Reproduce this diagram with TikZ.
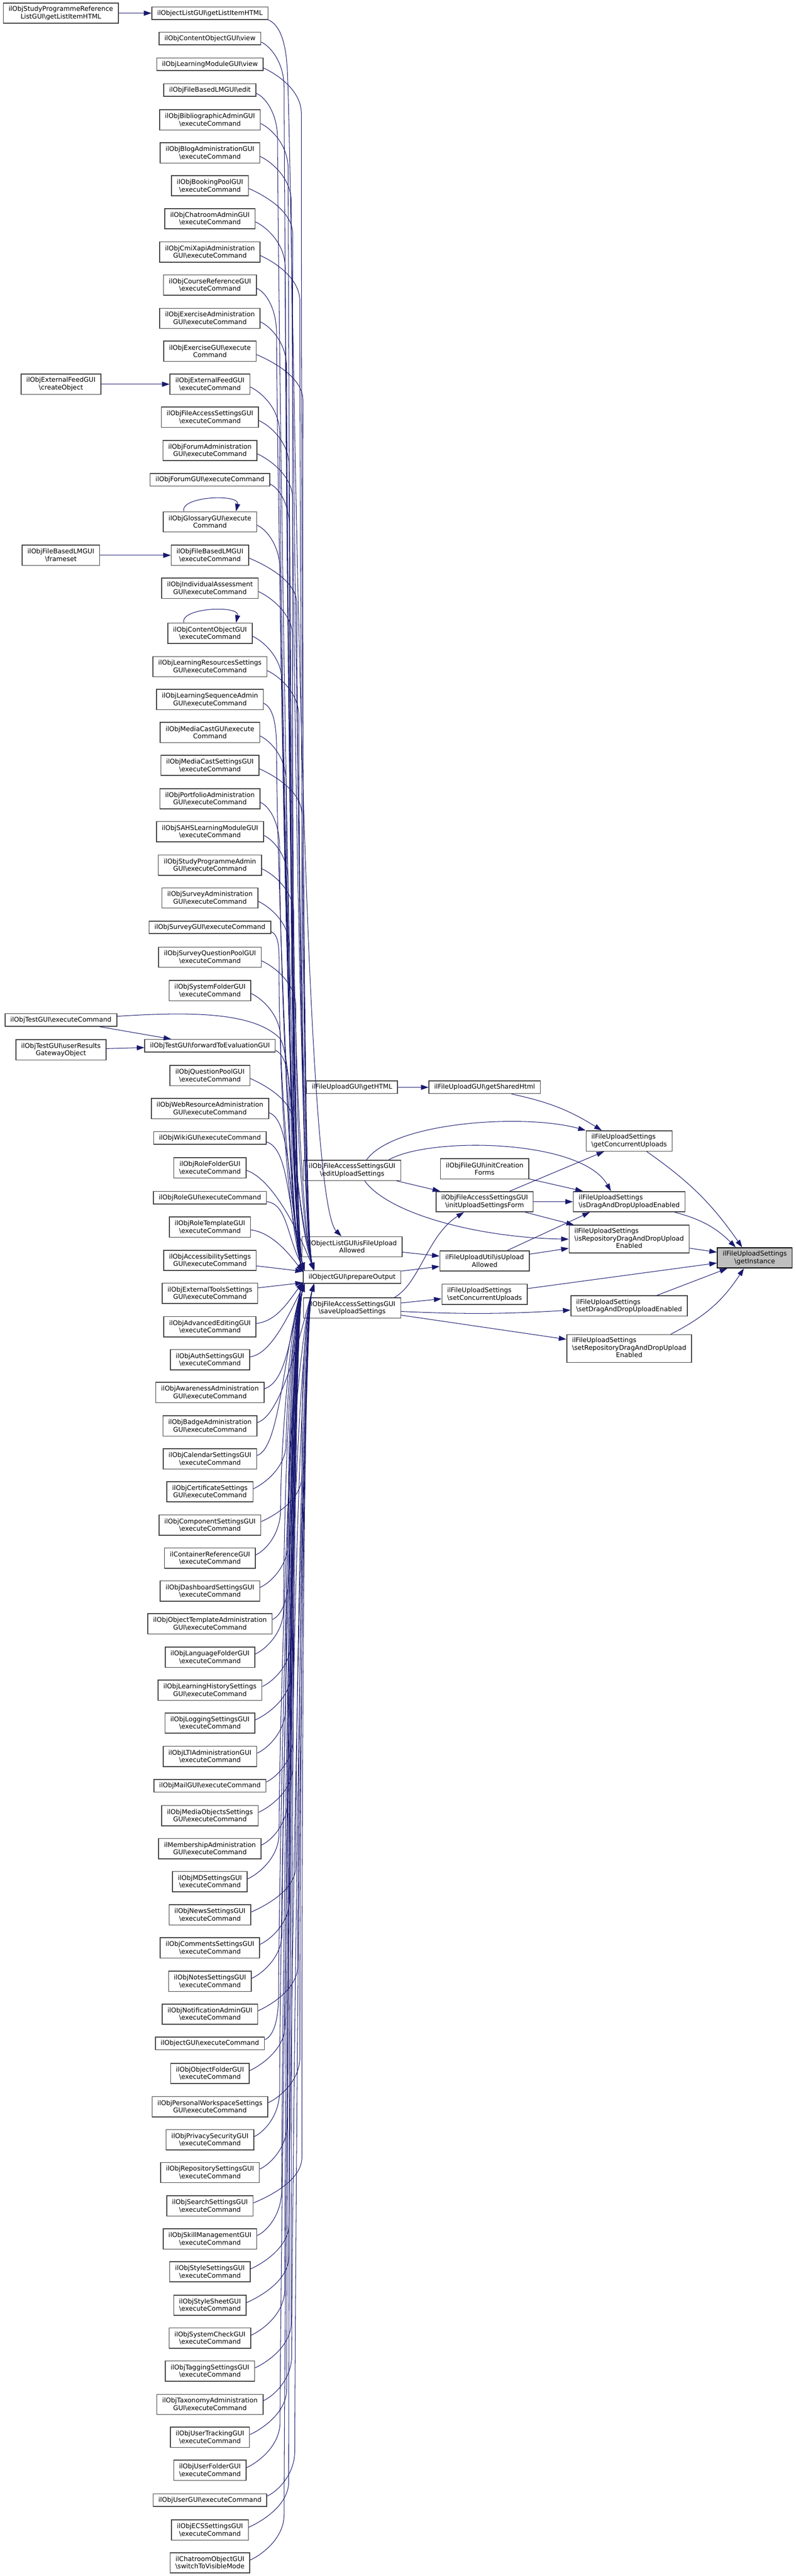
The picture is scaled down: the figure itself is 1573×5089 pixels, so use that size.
\documentclass[tikz,border=0pt]{standalone}
\usepackage{fontspec}
\setmainfont{DejaVu Sans}
\usetikzlibrary{arrows.meta,calc}

\definecolor{edgeblue}{HTML}{191970}
\definecolor{boxline}{HTML}{404040}
\definecolor{markgray}{HTML}{BFBFBF}
\newcommand{\bs}{\textbackslash}
\newcommand{\fnfont}{\fontsize{7.35}{8.4}\selectfont}

\tikzset{
  fn/.style={draw=boxline, line width=0.9pt, fill=white, font=\fnfont, align=center,
    inner xsep=6pt, inner ysep=1pt, minimum height=14.2pt},
  fn2/.style={fn, minimum height=22.8pt},
  fn3/.style={fn, minimum height=31.3pt},
  fnl/.style={fn2, align=left},
  fnmark/.style={fn2, fill=markgray, draw=black},
  call/.style={draw=edgeblue, line width=0.6pt, -{Triangle[length=8.5pt,width=5.7pt]}},
  downbundle/.style 2 args={to path={
    .. controls ($(\tikztostart)+(18,-8)$) and ($(\tikztostart -| \tikztotarget)+(#1,-40)$)
    .. ($(\tikztostart -| \tikztotarget)+(#1,-90)$)
    .. controls ($(\tikztostart -| \tikztotarget)+(#1,-#2)$) and ($(\tikztotarget)+(-25,90)$)
    .. (\tikztotarget)}},
  upbundle/.style 2 args={to path={
    .. controls ($(\tikztostart)+(18,8)$) and ($(\tikztostart -| \tikztotarget)+(#1,40)$)
    .. ($(\tikztostart -| \tikztotarget)+(#1,90)$)
    .. controls ($(\tikztostart -| \tikztotarget)+(#1,#2)$) and ($(\tikztotarget)+(-25,-90)$)
    .. (\tikztotarget)}}
}

\begin{document}
\begin{tikzpicture}[x=0.02cm, y=0.02cm]
	\path[use as bounding box, fill=white] (0,0) rectangle (1573,-5089);

	% outer callers
	\node[fn2] (studyref) at (120.4,-26) {ilObjStudyProgrammeReference\\ListGUI\bs getListItemHTML};
	\node[fn2] (feedcreate) at (120.4,-759) {ilObjExternalFeedGUI\\\bs createObject};
	\node[fn2] (lmframeset) at (120.4,-1097) {ilObjFileBasedLMGUI\\\bs frameset};
	\node[fn] (testexec) at (120.4,-2015) {ilObjTestGUI\bs executeCommand};
	\node[fn2] (testresults) at (120.4,-2074) {ilObjTestGUI\bs userResults\\GatewayObject};

	% main column
	\node[fn] (listhtml) at (415,-26) {ilObjectListGUI\bs getListItemHTML};
	\node[fn] (cobjview) at (415,-76) {ilObjContentObjectGUI\bs view};
	\node[fn] (lmview) at (415,-127) {ilObjLearningModuleGUI\bs view};
	\node[fn] (lmedit) at (415,-178) {ilObjFileBasedLMGUI\bs edit};
	\node[fn2] (biblio) at (415,-237) {ilObjBibliographicAdminGUI\\\bs executeCommand};
	\node[fn2] (blog) at (415,-302) {ilObjBlogAdministrationGUI\\\bs executeCommand};
	\node[fn2] (booking) at (415,-367) {ilObjBookingPoolGUI\\\bs executeCommand};
	\node[fn2] (chatadmin) at (415,-432) {ilObjChatroomAdminGUI\\\bs executeCommand};
	\node[fn2] (cmix) at (415,-498) {ilObjCmiXapiAdministration\\GUI\bs executeCommand};
	\node[fn2] (crsref) at (415,-563) {ilObjCourseReferenceGUI\\\bs executeCommand};
	\node[fn2] (excadmin) at (415,-629) {ilObjExerciseAdministration\\GUI\bs executeCommand};
	\node[fn2] (exc) at (415,-694) {ilObjExerciseGUI\bs execute\\Command};
	\node[fn2] (feed) at (415,-759) {ilObjExternalFeedGUI\\\bs executeCommand};
	\node[fn2] (fileacc) at (415,-824) {ilObjFileAccessSettingsGUI\\\bs executeCommand};
	\node[fn2] (frmadmin) at (415,-890) {ilObjForumAdministration\\GUI\bs executeCommand};
	\node[fn] (frm) at (415,-948) {ilObjForumGUI\bs executeCommand};
	\node[fn2] (glo) at (415,-1031) {ilObjGlossaryGUI\bs execute\\Command};
	\node[fn2] (lmexec) at (415,-1097) {ilObjFileBasedLMGUI\\\bs executeCommand};
	\node[fn2] (iass) at (415,-1162) {ilObjIndividualAssessment\\GUI\bs executeCommand};
	\node[fn2] (cobjexec) at (415,-1251) {ilObjContentObjectGUI\\\bs executeCommand};
	\node[fn2] (lres) at (415,-1317) {ilObjLearningResourcesSettings\\GUI\bs executeCommand};
	\node[fn2] (lso) at (415,-1382) {ilObjLearningSequenceAdmin\\GUI\bs executeCommand};
	\node[fn2] (mcst) at (415,-1447) {ilObjMediaCastGUI\bs execute\\Command};
	\node[fn2] (mcstset) at (415,-1512) {ilObjMediaCastSettingsGUI\\\bs executeCommand};
	\node[fn2] (prtf) at (415,-1578) {ilObjPortfolioAdministration\\GUI\bs executeCommand};
	\node[fn2] (sahs) at (415,-1643) {ilObjSAHSLearningModuleGUI\\\bs executeCommand};
	\node[fn2] (prgadmin) at (415,-1709) {ilObjStudyProgrammeAdmin\\GUI\bs executeCommand};
	\node[fn2] (svyadmin) at (415,-1774) {ilObjSurveyAdministration\\GUI\bs executeCommand};
	\node[fn] (svy) at (415,-1832) {ilObjSurveyGUI\bs executeCommand};
	\node[fn2] (spl) at (415,-1891) {ilObjSurveyQuestionPoolGUI\\\bs executeCommand};
	\node[fn2] (sysfold) at (415,-1957) {ilObjSystemFolderGUI\\\bs executeCommand};
	\node[fn] (testfwd) at (415,-2066) {ilObjTestGUI\bs forwardToEvaluationGUI};
	\node[fn2] (qpl) at (415,-2125) {ilObjQuestionPoolGUI\\\bs executeCommand};
	\node[fn2] (webradmin) at (415,-2190) {ilObjWebResourceAdministration\\GUI\bs executeCommand};
	\node[fn] (wiki) at (415,-2248) {ilObjWikiGUI\bs executeCommand};
	\node[fn2] (rolf) at (415,-2307) {ilObjRoleFolderGUI\\\bs executeCommand};
	\node[fn] (role) at (415,-2366) {ilObjRoleGUI\bs executeCommand};
	\node[fn2] (rolt) at (415,-2424) {ilObjRoleTemplateGUI\\\bs executeCommand};
	\node[fn2] (accs) at (415,-2490) {ilObjAccessibilitySettings\\GUI\bs executeCommand};
	\node[fn2] (exttools) at (415,-2555) {ilObjExternalToolsSettings\\GUI\bs executeCommand};
	\node[fn2] (adve) at (415,-2621) {ilObjAdvancedEditingGUI\\\bs executeCommand};
	\node[fn2] (auth) at (415,-2686) {ilObjAuthSettingsGUI\\\bs executeCommand};
	\node[fn2] (awra) at (415,-2751) {ilObjAwarenessAdministration\\GUI\bs executeCommand};
	\node[fn2] (bdga) at (415,-2817) {ilObjBadgeAdministration\\GUI\bs executeCommand};
	\node[fn2] (cals) at (415,-2882) {ilObjCalendarSettingsGUI\\\bs executeCommand};
	\node[fn2] (cert) at (415,-2947) {ilObjCertificateSettings\\GUI\bs executeCommand};
	\node[fn2] (cmps) at (415,-3013) {ilObjComponentSettingsGUI\\\bs executeCommand};
	\node[fn2] (cntref) at (415,-3078) {ilContainerReferenceGUI\\\bs executeCommand};
	\node[fn2] (dshs) at (415,-3143) {ilObjDashboardSettingsGUI\\\bs executeCommand};
	\node[fn2] (otpl) at (415,-3208) {ilObjObjectTemplateAdministration\\GUI\bs executeCommand};
	\node[fn2] (lngf) at (415,-3274) {ilObjLanguageFolderGUI\\\bs executeCommand};
	\node[fn2] (lhts) at (415,-3339) {ilObjLearningHistorySettings\\GUI\bs executeCommand};
	\node[fn2] (logs) at (415,-3404) {ilObjLoggingSettingsGUI\\\bs executeCommand};
	\node[fn2] (ltis) at (415,-3470) {ilObjLTIAdministrationGUI\\\bs executeCommand};
	\node[fn] (mail) at (415,-3528) {ilObjMailGUI\bs executeCommand};
	\node[fn2] (mobs) at (415,-3587) {ilObjMediaObjectsSettings\\GUI\bs executeCommand};
	\node[fn2] (mems) at (415,-3652) {ilMembershipAdministration\\GUI\bs executeCommand};
	\node[fn2] (mds) at (415,-3717) {ilObjMDSettingsGUI\\\bs executeCommand};
	\node[fn2] (nwss) at (415,-3783) {ilObjNewsSettingsGUI\\\bs executeCommand};
	\node[fn2] (coms) at (415,-3848) {ilObjCommentsSettingsGUI\\\bs executeCommand};
	\node[fn2] (nots) at (415,-3914) {ilObjNotesSettingsGUI\\\bs executeCommand};
	\node[fn2] (nota) at (415,-3979) {ilObjNotificationAdminGUI\\\bs executeCommand};
	\node[fn] (objexec) at (415,-4037) {ilObjectGUI\bs executeCommand};
	\node[fn2] (objf) at (415,-4096) {ilObjObjectFolderGUI\\\bs executeCommand};
	\node[fn2] (pwss) at (415,-4162) {ilObjPersonalWorkspaceSettings\\GUI\bs executeCommand};
	\node[fn2] (ps) at (415,-4227) {ilObjPrivacySecurityGUI\\\bs executeCommand};
	\node[fn2] (reps) at (415,-4292) {ilObjRepositorySettingsGUI\\\bs executeCommand};
	\node[fn2] (srch) at (415,-4358) {ilObjSearchSettingsGUI\\\bs executeCommand};
	\node[fn2] (skmg) at (415,-4423) {ilObjSkillManagementGUI\\\bs executeCommand};
	\node[fn2] (stys) at (415,-4488) {ilObjStyleSettingsGUI\\\bs executeCommand};
	\node[fn2] (sty) at (415,-4554) {ilObjStyleSheetGUI\\\bs executeCommand};
	\node[fn2] (sysc) at (415,-4619) {ilObjSystemCheckGUI\\\bs executeCommand};
	\node[fn2] (tags) at (415,-4684) {ilObjTaggingSettingsGUI\\\bs executeCommand};
	\node[fn2] (taxs) at (415,-4750) {ilObjTaxonomyAdministration\\GUI\bs executeCommand};
	\node[fn2] (trac) at (415,-4815) {ilObjUserTrackingGUI\\\bs executeCommand};
	\node[fn2] (usrf) at (415,-4880) {ilObjUserFolderGUI\\\bs executeCommand};
	\node[fn] (usr) at (415,-4939) {ilObjUserGUI\bs executeCommand};
	\node[fn2] (ecss) at (415,-4998) {ilObjECSSettingsGUI\\\bs executeCommand};
	\node[fn2] (chtr) at (415,-5063) {ilChatroomObjectGUI\\\bs switchToVisibleMode};

	% upload part
	\node[fn] (gethtml) at (696,-2148) {ilFileUploadGUI\bs getHTML};
	\node[fn2] (uplsetedit) at (696,-2312) {ilObjFileAccessSettingsGUI\\\bs editUploadSettings};
	\node[fn2] (isfileupl) at (696,-2463) {ilObjectListGUI\bs isFileUpload\\Allowed};
	\node[fn] (prep) at (696,-2523) {ilObjectGUI\bs prepareOutput};
	\node[fn2] (uplsetsave) at (696,-2584) {ilObjFileAccessSettingsGUI\\\bs saveUploadSettings};
	\node[fn] (sharedhtml) at (958,-2148) {ilFileUploadGUI\bs getSharedHtml};
	\node[fn2] (initforms) at (958,-2309) {ilObjFileGUI\bs initCreation\\Forms};
	\node[fn2] (initupl) at (958,-2374) {ilObjFileAccessSettingsGUI\\\bs initUploadSettingsForm};
	\node[fn2] (isuplallowed) at (958,-2491) {ilFileUploadUtil\bs isUpload\\Allowed};
	\node[fnl] (setconc) at (958,-2557) {ilFileUploadSettings\\\bs setConcurrentUploads};
	\node[fnl] (getconc) at (1243.7,-2254) {ilFileUploadSettings\\\bs getConcurrentUploads};
	\node[fnl] (isdnd) at (1243.7,-2374) {ilFileUploadSettings\\\bs isDragAndDropUploadEnabled};
	\node[fn3] (isrepdnd) at (1243.7,-2448) {\begin{tabular}{@{}l@{}}ilFileUploadSettings\\\bs isRepositoryDragAndDropUpload\\\multicolumn{1}{@{}c@{}}{Enabled}\end{tabular}};
	\node[fnl] (setdnd) at (1243.7,-2580) {ilFileUploadSettings\\\bs setDragAndDropUploadEnabled};
	\node[fn3] (setrepdnd) at (1243.7,-2664) {\begin{tabular}{@{}l@{}}ilFileUploadSettings\\\bs setRepositoryDragAndDropUpload\\\multicolumn{1}{@{}c@{}}{Enabled}\end{tabular}};
	\node[fnmark] (getinst) at (1492,-2485) {ilFileUploadSettings\\\bs getInstance};

	% short calls
	\draw[call] (studyref) -- (listhtml);
	\draw[call] (feedcreate) -- (feed);
	\draw[call] (lmframeset) -- (lmexec);
	\draw[call] (testexec) -- (testfwd);
	\draw[call] (testresults) -- (testfwd);
	\draw[call] (glo.158) .. controls +(-8,30) and +(8,35) .. (glo.22);
	\draw[call] (cobjexec.158) .. controls +(-8,30) and +(8,35) .. (cobjexec.22);
	\draw[call] (listhtml.south east) .. controls (550,-48) and (565,-75) .. (568,-140)
		.. controls (580,-400) and (592,-2360) .. (isfileupl);
	\draw[call] (testexec) .. controls (380,-1998) and (500,-2000) .. (552,-2050)
		.. controls (580,-2077) and (578,-2380) .. (prep.170);

	% callers of prepareOutput from above
	\draw[call, downbundle={-40}{300}] (cobjview.356) to (prep.172);
	\draw[call, downbundle={-25}{300}] (lmview.356) to (prep.170);
	\draw[call, downbundle={-50}{300}] (lmedit.356) to (prep.174);
	\draw[call, downbundle={-32}{300}] (biblio.356) to (prep.172);
	\draw[call, downbundle={-45}{300}] (blog.356) to (prep.170);
	\draw[call, downbundle={-20}{300}] (booking.356) to (prep.174);
	\draw[call, downbundle={-38}{300}] (chatadmin.356) to (prep.172);
	\draw[call, downbundle={-28}{300}] (cmix.356) to (prep.170);
	\draw[call, downbundle={-52}{300}] (crsref.356) to (prep.174);
	\draw[call, downbundle={-35}{300}] (excadmin.356) to (prep.172);
	\draw[call, downbundle={-22}{300}] (exc.356) to (prep.170);
	\draw[call, downbundle={-46}{300}] (feed.356) to (prep.174);
	\draw[call, downbundle={-30}{300}] (fileacc.356) to (prep.172);
	\draw[call, downbundle={-42}{300}] (frmadmin.356) to (prep.170);
	\draw[call, downbundle={-26}{300}] (frm.356) to (prep.174);
	\draw[call, downbundle={-48}{300}] (glo.356) to (prep.172);
	\draw[call, downbundle={-34}{300}] (lmexec.356) to (prep.170);
	\draw[call, downbundle={-20}{300}] (iass.356) to (prep.174);
	\draw[call, downbundle={-44}{300}] (cobjexec.356) to (prep.172);
	\draw[call, downbundle={-30}{300}] (lres.356) to (prep.170);
	\draw[call, downbundle={-52}{300}] (lso.356) to (prep.174);
	\draw[call, downbundle={-36}{300}] (mcst.356) to (prep.172);
	\draw[call, downbundle={-24}{300}] (mcstset.356) to (prep.170);
	\draw[call, downbundle={-46}{300}] (prtf.356) to (prep.174);
	\draw[call, downbundle={-32}{300}] (sahs.356) to (prep.172);
	\draw[call, downbundle={-40}{300}] (prgadmin.356) to (prep.170);
	\draw[call, downbundle={-26}{300}] (svyadmin.356) to (prep.174);
	\draw[call, downbundle={-50}{300}] (svy.356) to (prep.172);
	\draw[call, downbundle={-36}{300}] (spl.356) to (prep.170);
	\draw[call, downbundle={-44}{220}] (sysfold.356) to (prep.174);
	\draw[call, downbundle={-30}{180}] (testfwd.356) to (prep.172);
	\draw[call, downbundle={-40}{150}] (qpl.356) to (prep.170);
	\draw[call] (webradmin.356) .. controls +(45,-15) and +(-30,150) .. (prep.174);
	\draw[call] (wiki.356) .. controls +(45,-15) and +(-35,130) .. (prep.172);
	\draw[call] (rolf.356) .. controls +(45,-15) and +(-40,100) .. (prep.170);
	\draw[call] (role.356) .. controls +(40,-5) and +(-35,70) .. (prep.172);
	\draw[call] (rolt.356) .. controls +(40,-5) and +(-30,40) .. (prep.174);
	\draw[call] (accs) -- (prep);
	\draw[call] (exttools) -- (prep);

	% callers of prepareOutput from below
	\draw[call] (adve.4) .. controls +(40,5) and +(-30,-40) .. (prep.186);
	\draw[call] (auth.4) .. controls +(40,5) and +(-35,-70) .. (prep.188);
	\draw[call] (awra.4) .. controls +(45,15) and +(-30,-100) .. (prep.188);
	\draw[call] (bdga.4) .. controls +(45,15) and +(-35,-130) .. (prep.190);
	\draw[call] (cals.4) .. controls +(45,15) and +(-40,-150) .. (prep.186);
	\draw[call, upbundle={-36}{150}] (cert.4) to (prep.188);
	\draw[call, upbundle={-24}{180}] (cmps.4) to (prep.190);
	\draw[call, upbundle={-44}{220}] (cntref.4) to (prep.186);
	\draw[call, upbundle={-32}{300}] (dshs.4) to (prep.188);
	\draw[call, upbundle={-50}{300}] (otpl.4) to (prep.190);
	\draw[call, upbundle={-38}{300}] (lngf.4) to (prep.186);
	\draw[call, upbundle={-26}{300}] (lhts.4) to (prep.188);
	\draw[call, upbundle={-46}{300}] (logs.4) to (prep.190);
	\draw[call, upbundle={-34}{300}] (ltis.4) to (prep.186);
	\draw[call, upbundle={-22}{300}] (mail.4) to (prep.188);
	\draw[call, upbundle={-42}{300}] (mobs.4) to (prep.190);
	\draw[call, upbundle={-30}{300}] (mems.4) to (prep.186);
	\draw[call, upbundle={-50}{300}] (mds.4) to (prep.188);
	\draw[call, upbundle={-36}{300}] (nwss.4) to (prep.190);
	\draw[call, upbundle={-26}{300}] (coms.4) to (prep.186);
	\draw[call, upbundle={-44}{300}] (nots.4) to (prep.188);
	\draw[call, upbundle={-32}{300}] (nota.4) to (prep.190);
	\draw[call, upbundle={-48}{300}] (objexec.4) to (prep.186);
	\draw[call, upbundle={-38}{300}] (objf.4) to (prep.188);
	\draw[call, upbundle={-28}{300}] (pwss.4) to (prep.190);
	\draw[call, upbundle={-46}{300}] (ps.4) to (prep.186);
	\draw[call, upbundle={-34}{300}] (reps.4) to (prep.188);
	\draw[call, upbundle={-24}{300}] (srch.4) to (prep.190);
	\draw[call, upbundle={-42}{300}] (skmg.4) to (prep.186);
	\draw[call, upbundle={-30}{300}] (stys.4) to (prep.188);
	\draw[call, upbundle={-50}{300}] (sty.4) to (prep.190);
	\draw[call, upbundle={-36}{300}] (sysc.4) to (prep.186);
	\draw[call, upbundle={-26}{300}] (tags.4) to (prep.188);
	\draw[call, upbundle={-44}{300}] (taxs.4) to (prep.190);
	\draw[call, upbundle={-32}{300}] (trac.4) to (prep.186);
	\draw[call, upbundle={-48}{300}] (usrf.4) to (prep.188);
	\draw[call, upbundle={-38}{300}] (usr.4) to (prep.190);
	\draw[call, upbundle={-28}{300}] (ecss.4) to (prep.186);
	\draw[call, upbundle={-40}{300}] (chtr.4) to (prep.188);

	% upload settings calls
	\draw[call] (gethtml) -- (sharedhtml);
	\draw[call] (sharedhtml.346) to[bend left=10] (getconc.159);
	\draw[call] (uplsetedit.36) .. controls (780,-2215) and (1040,-2200) .. (getconc.north west);
	\draw[call] (uplsetedit.16) .. controls (850,-2245) and (1150,-2250) .. (isdnd.150);
	\draw[call] (uplsetedit) -- (initupl);
	\draw[call] (uplsetedit.320) .. controls (770,-2400) and (950,-2445) .. (isrepdnd.west);
	\draw[call] (initforms) -- (isdnd);
	\draw[call] (initupl) -- (getconc);
	\draw[call] (initupl) -- (isdnd);
	\draw[call] (initupl) -- (isrepdnd);
	\draw[call] (isfileupl) -- (isuplallowed);
	\draw[call] (prep) -- (isuplallowed);
	\draw[call] (isuplallowed) -- (isdnd.195);
	\draw[call] (isuplallowed) -- (isrepdnd);
	\draw[call] (uplsetsave.14) .. controls (830,-2535) and (845,-2440) .. (initupl.207);
	\draw[call] (uplsetsave) -- (setconc);
	\draw[call] (uplsetsave.356) to[bend right=3] (setdnd.184);
	\draw[call] (uplsetsave) -- (setrepdnd);
	\draw[call] (getconc.329) to[bend left=10] (getinst.140);
	\draw[call] (isdnd.347) to[bend left=15] (getinst.151);
	\draw[call] (isrepdnd) -- (getinst);
	\draw[call] (setconc) -- (getinst);
	\draw[call] (setdnd) -- (getinst);
	\draw[call] (setrepdnd.19) to[bend right=15] (getinst.224);
\end{tikzpicture}
\end{document}
